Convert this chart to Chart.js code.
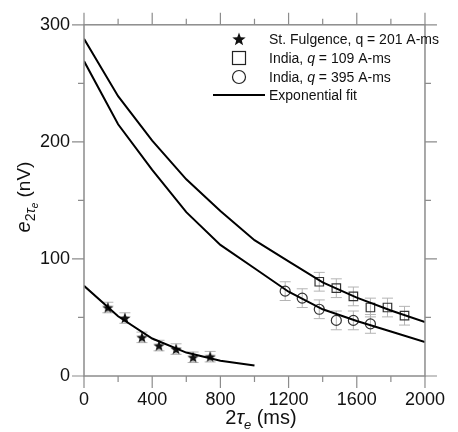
<!DOCTYPE html>
<html>
<head>
<meta charset="utf-8">
<script src="https://cdn.jsdelivr.net/npm/chart.js@4.4.0/dist/chart.umd.min.js"></script>
<style>
html,body{margin:0;padding:0;background:#fff;}
#wrap{width:458px;height:432px;}
</style>
</head>
<body>
<div id="wrap"><canvas id="c" width="458" height="432"></canvas></div>
<script>
// ---- data ----
const starX = [140, 240, 340, 440, 540, 640, 740];
const starY = [58.5, 49.5, 33, 26, 23, 16, 16.5];
const starErr = [4.5, 4.5, 4.5, 4.5, 4.5, 4.5, 4.5];

const squareX = [1380, 1480, 1580, 1680, 1780, 1880];
const squareY = [80.5, 75, 68, 58.5, 58.5, 51.5];
const squareErr = [8, 8, 8, 8, 8, 8];

const circleX = [1180, 1280, 1380, 1480, 1580, 1680];
const circleY = [72.5, 66.5, 57, 47.5, 47.5, 44.5];
const circleErr = [8, 8, 8, 8, 8, 8];

const fitX = [0, 200, 400, 600, 800, 1000, 1200, 1400, 1600, 1800, 2000];
const fitSquareY = [288, 239, 201, 168, 141, 116, 98, 80, 67, 56, 46];
const fitCircleY = [269, 215, 176, 140, 112, 92, 72, 57, 47, 38, 29];
const starFitX = [0, 200, 400, 600, 800, 1000];
const starFitY = [77, 51, 32, 20, 13, 9];

const xTicks = [0, 400, 800, 1200, 1600, 2000];
const yTicks = [0, 100, 200, 300];

const legendLabels = [
  ['St. Fulgence, q = 201 A-ms'],
  ['India, ', 'q', ' = 109 A-ms'],
  ['India, ', 'q', ' = 395 A-ms'],
  ['Exponential fit']
];

// ---- helpers ----
const FONT = '"Liberation Sans", Arial, Helvetica, sans-serif';
function pts(xs, ys) { return xs.map((x, i) => ({x: x, y: ys[i]})); }
function makeStar(size, color) {
  const c = document.createElement('canvas');
  c.width = size; c.height = size;
  const g = c.getContext('2d');
  const cx = size / 2, cy = size / 2 + size * 0.04, R = size / 2, r = R * 0.42;
  g.beginPath();
  for (let i = 0; i < 10; i++) {
    const a = -Math.PI / 2 + i * Math.PI / 5;
    const rr = i % 2 === 0 ? R : r;
    const px = cx + rr * Math.cos(a), py = cy + rr * Math.sin(a);
    if (i === 0) g.moveTo(px, py); else g.lineTo(px, py);
  }
  g.closePath();
  g.fillStyle = color;
  g.fill();
  return c;
}
const starImg = makeStar(12, '#111');
const starImgLegend = makeStar(14, '#111');

const errorBars = {
  id: 'errorBars',
  beforeDatasetsDraw(chart) {
    const ctx = chart.ctx, xs = chart.scales.x, ys = chart.scales.y;
    const sets = [[starX, starY, starErr], [squareX, squareY, squareErr], [circleX, circleY, circleErr]];
    ctx.save();
    ctx.strokeStyle = '#b4b4b4';
    ctx.lineWidth = 1;
    sets.forEach(([X, Y, E]) => {
      X.forEach((xv, i) => {
        const px = xs.getPixelForValue(xv);
        const top = ys.getPixelForValue(Y[i] + E[i]);
        const bot = ys.getPixelForValue(Y[i] - E[i]);
        ctx.beginPath();
        ctx.moveTo(px, top); ctx.lineTo(px, bot);
        ctx.moveTo(px - 5.5, top); ctx.lineTo(px + 5.5, top);
        ctx.moveTo(px - 5.5, bot); ctx.lineTo(px + 5.5, bot);
        ctx.stroke();
      });
    });
    ctx.restore();
  }
};

function drawParts(ctx, parts, x, y, align) {
  let total = 0;
  parts.forEach(p => { ctx.font = p.f; total += ctx.measureText(p.t).width; });
  let cx = align === 'center' ? x - total / 2 : x;
  parts.forEach(p => {
    ctx.font = p.f;
    ctx.fillText(p.t, cx, y + (p.dy || 0));
    cx += ctx.measureText(p.t).width;
  });
}

const framePlugin = {
  id: 'frame',
  afterDraw(chart) {
    const ctx = chart.ctx, a = chart.chartArea, xs = chart.scales.x, ys = chart.scales.y;
    ctx.save();
    ctx.strokeStyle = '#8c8c8c';
    ctx.lineWidth = 1.5;
    ctx.strokeRect(a.left, a.top, a.right - a.left, a.bottom - a.top);
    ctx.lineWidth = 1.2;
    ctx.beginPath();
    for (let v = 0; v <= 2000; v += 200) {
      const px = xs.getPixelForValue(v);
      const L = (v % 400 === 0) ? 12 : 6;
      ctx.moveTo(px, a.bottom); ctx.lineTo(px, a.bottom + L);
      ctx.moveTo(px, a.top); ctx.lineTo(px, a.top - L);
    }
    for (let v = 0; v <= 300; v += 50) {
      const py = ys.getPixelForValue(v);
      const L = (v % 100 === 0) ? 12 : 6;
      ctx.moveTo(a.left, py); ctx.lineTo(a.left - L, py);
      ctx.moveTo(a.right, py); ctx.lineTo(a.right + L, py);
    }
    ctx.stroke();

    // axis titles
    ctx.fillStyle = '#111';
    ctx.textBaseline = 'alphabetic';
    ctx.textAlign = 'left';
    drawParts(ctx, [
      {t: '2', f: '20px ' + FONT},
      {t: '\u03C4', f: 'italic 20px ' + FONT},
      {t: 'e', f: 'italic 13px ' + FONT, dy: 5},
      {t: ' (ms)', f: '20px ' + FONT}
    ], 261, 424, 'center');

    ctx.save();
    ctx.translate(30, 197);
    ctx.rotate(-Math.PI / 2);
    drawParts(ctx, [
      {t: 'e', f: 'italic 20px ' + FONT},
      {t: '2', f: '14px ' + FONT, dy: 5},
      {t: '\u03C4', f: 'italic 14px ' + FONT, dy: 5},
      {t: 'e', f: 'italic 10px ' + FONT, dy: 8},
      {t: ' (nV)', f: '19px ' + FONT}
    ], 0, 0, 'center');
    ctx.restore();

    // legend
    const lx = 269, rows = [39, 58, 77, 95];
    ctx.textBaseline = 'middle';
    legendLabels.forEach((parts, i) => {
      const pp = parts.map((t, k) => ({t: t, f: (parts.length === 3 && k === 1 ? 'italic ' : '') + '14px ' + FONT}));
      drawParts(ctx, pp, lx, rows[i] + 1, 'left');
    });
    ctx.drawImage(starImgLegend, 239 - 7, rows[0] - 7);
    ctx.strokeStyle = '#222';
    ctx.lineWidth = 1.2;
    ctx.strokeRect(239 - 6.5, rows[1] - 6.5, 13, 13);
    ctx.beginPath();
    ctx.arc(239, rows[2], 6.5, 0, Math.PI * 2);
    ctx.stroke();
    ctx.strokeStyle = '#000';
    ctx.lineWidth = 2;
    ctx.beginPath();
    ctx.moveTo(213, rows[3]); ctx.lineTo(265, rows[3]);
    ctx.stroke();
    ctx.restore();
  }
};

const tickFont = {family: FONT, size: 18};

new Chart(document.getElementById('c'), {
  type: 'scatter',
  data: {
    datasets: [
      {data: pts(fitX, fitSquareY), showLine: true, borderColor: '#000', borderWidth: 2, pointRadius: 0, tension: 0},
      {data: pts(fitX, fitCircleY), showLine: true, borderColor: '#000', borderWidth: 2, pointRadius: 0, tension: 0},
      {data: pts(starFitX, starFitY), showLine: true, borderColor: '#000', borderWidth: 2, pointRadius: 0, tension: 0},
      {data: pts(starX, starY), pointStyle: starImg, pointRadius: 6, showLine: false},
      {data: pts(squareX, squareY), pointStyle: 'rect', pointRadius: 6, borderColor: '#333', borderWidth: 1.2, backgroundColor: 'rgba(0,0,0,0)', showLine: false},
      {data: pts(circleX, circleY), pointStyle: 'circle', pointRadius: 5, borderColor: '#333', borderWidth: 1.2, backgroundColor: 'rgba(0,0,0,0)', showLine: false}
    ]
  },
  options: {
    responsive: false,
    animation: false,
    layout: {padding: {left: 0, right: 19, top: 22, bottom: 0}},
    plugins: {legend: {display: false}, tooltip: {enabled: false}},
    scales: {
      x: {
        type: 'linear', min: 0, max: 2000,
        grid: {display: false, drawTicks: false},
        border: {display: false},
        afterBuildTicks: s => { s.ticks = xTicks.map(v => ({value: v})); },
        ticks: {font: tickFont, color: '#111', padding: 13, maxRotation: 0, callback: v => String(v)},
        afterFit: s => { s.height = 56; }
      },
      y: {
        type: 'linear', min: 0, max: 300,
        grid: {display: false, drawTicks: false},
        border: {display: false},
        afterBuildTicks: s => { s.ticks = yTicks.map(v => ({value: v})); },
        ticks: {font: tickFont, color: '#111', padding: 14, callback: v => String(v)},
        afterFit: s => { s.width = 84; }
      }
    }
  },
  plugins: [errorBars, framePlugin]
});
</script>
</body>
</html>
